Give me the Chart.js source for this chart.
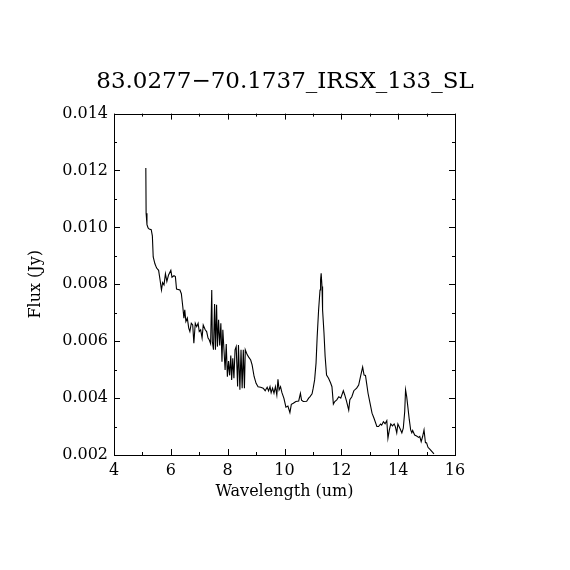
<!DOCTYPE html>
<html>
<head>
<meta charset="utf-8">
<script src="https://cdn.jsdelivr.net/npm/chart.js@4/dist/chart.umd.min.js"></script>
<style>
  html, body { margin: 0; padding: 0; background: #fff; }
  #wrap { width: 570px; height: 570px; }
</style>
</head>
<body>
<div id="wrap"><canvas id="spec" width="570" height="570"></canvas></div>
<script>
const title = '83.0277\u221270.1737_IRSX_133_SL';

const wavelength = [
  5.12, 5.13, 5.16, 5.20, 5.24, 5.31, 5.35, 5.38, 5.44, 5.50, 5.57, 5.62, 5.67, 5.71, 5.76, 5.81, 5.86, 5.92,
  6.00, 6.04, 6.11, 6.16, 6.20, 6.32, 6.37, 6.42, 6.46, 6.49, 6.53, 6.58, 6.63, 6.67, 6.72, 6.77, 6.81, 6.86,
  6.91, 6.96, 7.00, 7.05, 7.10, 7.14, 7.21, 7.26, 7.31, 7.35, 7.40, 7.44, 7.46, 7.50, 7.54, 7.57, 7.61, 7.64,
  7.68, 7.72, 7.76, 7.80, 7.83, 7.87, 7.91, 7.95, 7.99, 8.03, 8.07, 8.11, 8.14, 8.18, 8.22, 8.26, 8.30, 8.35,
  8.38, 8.43, 8.47, 8.51, 8.55, 8.59, 8.62, 8.69, 8.74, 8.81, 8.86, 8.93, 9.00, 9.07, 9.16, 9.25, 9.32, 9.39,
  9.44, 9.49, 9.53, 9.58, 9.63, 9.68, 9.73, 9.77, 9.81, 9.86, 9.91, 9.98, 10.05, 10.12, 10.19, 10.24, 10.31,
  10.40, 10.50, 10.56, 10.60, 10.66, 10.78, 10.85, 10.90, 10.97, 11.01, 11.06, 11.11, 11.15, 11.20, 11.25,
  11.27, 11.29, 11.32, 11.34, 11.39, 11.43, 11.48, 11.55, 11.62, 11.67, 11.72, 11.77, 11.84, 11.91, 11.98,
  12.07, 12.12, 12.18, 12.26, 12.30, 12.37, 12.44, 12.54, 12.61, 12.68, 12.75, 12.80, 12.85, 12.89, 12.94,
  13.01, 13.08, 13.15, 13.25, 13.31, 13.38, 13.42, 13.48, 13.54, 13.60, 13.64, 13.69, 13.74, 13.80, 13.86,
  13.90, 13.95, 13.99, 14.06, 14.13, 14.18, 14.23, 14.26, 14.30, 14.34, 14.39, 14.44, 14.48, 14.51, 14.58,
  14.65, 14.72, 14.76, 14.81, 14.86, 14.91, 14.96, 15.00, 15.05, 15.12, 15.19, 15.26
];

const flux = [
  0.01209, 0.01050, 0.01010, 0.00998, 0.00994, 0.00992, 0.00970, 0.00896, 0.00872, 0.00857, 0.00849, 0.00816,
  0.00780, 0.00806, 0.00798, 0.00837, 0.00810, 0.00833, 0.00849, 0.00825, 0.00830, 0.00827, 0.00783, 0.00780,
  0.00767, 0.00722, 0.00681, 0.00710, 0.00669, 0.00681, 0.00646, 0.00634, 0.00663, 0.00657, 0.00593, 0.00663,
  0.00651, 0.00663, 0.00634, 0.00640, 0.00611, 0.00657, 0.00640, 0.00634, 0.00611, 0.00605, 0.00591, 0.00780,
  0.00599, 0.00570, 0.00731, 0.00570, 0.00728, 0.00581, 0.00675, 0.00585, 0.00663, 0.00528, 0.00640, 0.00570,
  0.00499, 0.00590, 0.00475, 0.00530, 0.00480, 0.00550, 0.00464, 0.00540, 0.00470, 0.00570, 0.00581, 0.00441,
  0.00587, 0.00429, 0.00570, 0.00435, 0.00570, 0.00435, 0.00570, 0.00552, 0.00544, 0.00534, 0.00517, 0.00476,
  0.00452, 0.00440, 0.00438, 0.00435, 0.00426, 0.00438, 0.00425, 0.00440, 0.00419, 0.00435, 0.00417, 0.00440,
  0.00411, 0.00466, 0.00429, 0.00440, 0.00419, 0.00399, 0.00368, 0.00372, 0.00349, 0.00378, 0.00382, 0.00388,
  0.00390, 0.00417, 0.00393, 0.00388, 0.00389, 0.00400, 0.00405, 0.00415, 0.00435, 0.00464, 0.00523, 0.00616,
  0.00710, 0.00780, 0.00816, 0.00839, 0.00792, 0.00710, 0.00628, 0.00546, 0.00481, 0.00470, 0.00454, 0.00440,
  0.00379, 0.00388, 0.00394, 0.00405, 0.00400, 0.00426, 0.00411, 0.00390, 0.00358, 0.00394, 0.00405, 0.00426,
  0.00435, 0.00446, 0.00478, 0.00509, 0.00481, 0.00480, 0.00452, 0.00417, 0.00382, 0.00347, 0.00329, 0.00300,
  0.00300, 0.00309, 0.00305, 0.00317, 0.00310, 0.00321, 0.00259, 0.00288, 0.00309, 0.00302, 0.00309, 0.00300,
  0.00278, 0.00309, 0.00294, 0.00278, 0.00294, 0.00352, 0.00429, 0.00405, 0.00370, 0.00325, 0.00288, 0.00278,
  0.00286, 0.00270, 0.00267, 0.00262, 0.00265, 0.00247, 0.00265, 0.00288, 0.00243, 0.00243, 0.00227, 0.00220,
  0.00212, 0.00204
];

const xTicks = [4, 6, 8, 10, 12, 14, 16];
const yTicks = [0.002, 0.004, 0.006, 0.008, 0.010, 0.012, 0.014];
const xMinorStep = 1;
const yMinorStep = 0.001;

const serif = '"DejaVu Serif", "Liberation Serif", serif';

// box round the plot with inward ticks on all four sides
const frameTicks = {
  id: 'frameTicks',
  afterDraw(chart) {
    const { ctx, chartArea: a, scales: { x, y } } = chart;
    ctx.save();
    ctx.strokeStyle = '#000';
    ctx.lineWidth = 1;
    ctx.strokeRect(Math.round(a.left) + 0.5, Math.round(a.top) + 0.5,
      Math.round(a.right - a.left), Math.round(a.bottom - a.top));
    ctx.beginPath();
    for (let v = x.min; v <= x.max + 1e-9; v += xMinorStep) {
      const px = Math.round(x.getPixelForValue(v)) + 0.5;
      const len = xTicks.includes(v) ? 6 : 3;
      ctx.moveTo(px, a.bottom); ctx.lineTo(px, a.bottom - len);
      ctx.moveTo(px, a.top); ctx.lineTo(px, a.top + len);
    }
    for (let i = 0; y.min + i * yMinorStep <= y.max + 1e-9; i++) {
      const v = y.min + i * yMinorStep;
      const py = Math.round(y.getPixelForValue(v)) + 0.5;
      const len = i % 2 === 0 ? 6 : 3;
      ctx.moveTo(a.left, py); ctx.lineTo(a.left + len, py);
      ctx.moveTo(a.right, py); ctx.lineTo(a.right - len, py);
    }
    ctx.stroke();
    ctx.restore();
  }
};

Chart.defaults.font.family = serif;
Chart.defaults.color = '#000';

new Chart(document.getElementById('spec').getContext('2d'), {
  type: 'scatter',
  data: {
    datasets: [{
      data: wavelength.map((w, i) => ({ x: w, y: flux[i] })),
      showLine: true,
      borderColor: '#000',
      borderWidth: 1.1,
      pointRadius: 0,
      tension: 0
    }]
  },
  options: {
    responsive: false,
    animation: false,
    devicePixelRatio: 1,
    layout: { padding: { left: 0, right: 0, top: 0, bottom: 65 } },
    plugins: {
      legend: { display: false },
      tooltip: { enabled: false },
      title: {
        display: true,
        text: title,
        font: { family: serif, size: 23, weight: 'normal' },
        color: '#000',
        padding: { top: 68, bottom: 18 }
      }
    },
    scales: {
      x: {
        type: 'linear',
        min: 4,
        max: 16,
        afterBuildTicks: s => { s.ticks = xTicks.map(v => ({ value: v })); },
        afterFit: s => { s.height = 50; },
        grid: { display: false, drawTicks: false },
        border: { display: false },
        ticks: { font: { size: 16 }, padding: 6, maxRotation: 0 },
        title: { display: true, text: 'Wavelength (um)', font: { size: 16 }, padding: { top: 0, bottom: 4 } }
      },
      y: {
        type: 'linear',
        min: 0.002,
        max: 0.014,
        afterBuildTicks: s => { s.ticks = yTicks.map(v => ({ value: v })); },
        afterFit: s => { s.width = 114; },
        grid: { display: false, drawTicks: false },
        border: { display: false },
        ticks: { font: { size: 16 }, padding: 6, callback: v => v.toFixed(3) },
        title: { display: true, text: 'Flux (Jy)', font: { size: 16 }, padding: { top: 26, bottom: 0 } }
      },
      // empty right-hand axis only to keep the plot box where the reference has it
      yRight: {
        type: 'linear',
        position: 'right',
        min: 0.002,
        max: 0.014,
        afterFit: s => { s.width = 115; },
        grid: { display: false, drawTicks: false },
        border: { display: false },
        ticks: { display: false }
      }
    }
  },
  plugins: [frameTicks]
});
</script>
</body>
</html>
